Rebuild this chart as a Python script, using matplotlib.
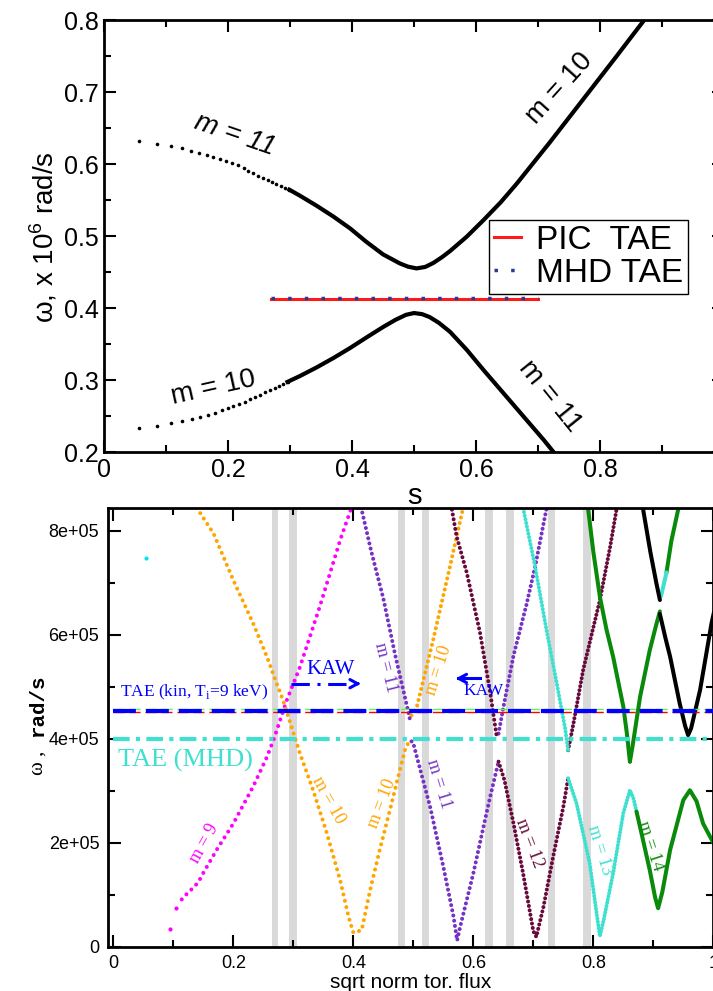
import numpy as np
import matplotlib
matplotlib.use('Agg')
import matplotlib.pyplot as plt

plt.rcParams['font.family'] = ['Liberation Sans', 'DejaVu Sans']
plt.rcParams['mathtext.fontset'] = 'custom'
plt.rcParams['mathtext.rm'] = 'Liberation Serif'
plt.rcParams['mathtext.sf'] = 'Liberation Sans'

# ---------------- top panel: continuum vs s ----------------
upper_dots_s = [0.057, 0.085, 0.1075, 0.125, 0.140, 0.153, 0.1656, 0.176, 0.187, 0.197,
                0.207, 0.216, 0.225, 0.233, 0.241, 0.249, 0.257, 0.264, 0.271, 0.278,
                0.285, 0.292, 0.299]
upper_dots_w = [0.632, 0.628, 0.6254, 0.622, 0.6185, 0.6157, 0.6125, 0.610, 0.607, 0.6037,
                0.601, 0.598, 0.594, 0.5907, 0.5875, 0.584, 0.581, 0.578, 0.5755, 0.5727,
                0.5699, 0.567, 0.5643]
upper_line_s = [0.299, 0.316, 0.343, 0.37, 0.397, 0.423, 0.45, 0.477, 0.49, 0.504, 0.518,
                0.531, 0.545, 0.558, 0.585, 0.612, 0.64, 0.666, 0.692, 0.719, 0.746,
                0.773, 0.80, 0.827, 0.85, 0.875]
upper_line_w = [0.5643, 0.556, 0.542, 0.527, 0.5105, 0.492, 0.4745, 0.462, 0.4575, 0.455, 0.457,
                0.4625, 0.4705, 0.479, 0.499, 0.522, 0.547, 0.573, 0.601, 0.630, 0.660,
                0.690, 0.720, 0.750, 0.776, 0.804]

lower_dots_s = [0.057, 0.085, 0.1075, 0.125, 0.1415, 0.155, 0.167, 0.179, 0.190, 0.1995,
                0.2086, 0.218, 0.227, 0.2355, 0.2435, 0.2516, 0.26, 0.268, 0.275, 0.282,
                0.289, 0.296]
lower_dots_w = [0.2329, 0.2365, 0.2398, 0.243, 0.2458, 0.249, 0.252, 0.2546, 0.2579, 0.2607,
                0.2635, 0.2667, 0.270, 0.2732, 0.2764, 0.2796, 0.283, 0.286, 0.2888, 0.2917,
                0.2945, 0.2974]
lower_line_s = [0.296, 0.316, 0.343, 0.37, 0.397, 0.425, 0.45, 0.47, 0.487, 0.50, 0.513,
                0.525, 0.54, 0.558, 0.585, 0.612, 0.639, 0.666, 0.69, 0.709, 0.725, 0.735]
lower_line_w = [0.2974, 0.3055, 0.3175, 0.3305, 0.3445, 0.360, 0.3735, 0.3835, 0.3905, 0.393, 0.3915,
                0.3875, 0.3795, 0.367, 0.342, 0.314, 0.287, 0.260, 0.236, 0.217, 0.2, 0.19]

tae_s = [0.27, 0.70]
pic_tae_w = [0.413, 0.413]
mhd_tae_w = [0.4135, 0.4135]

# ---------------- bottom panel: continuum vs sqrt norm tor. flux (units 1e5 rad/s) ----------------
m9_dots_s = [0.0945, 0.104]
m9_dots_w = [0.34, 0.74]
m9_s = [0.114, 0.122, 0.13, 0.135, 0.143, 0.15, 0.172, 0.2, 0.233, 0.256, 0.267, 0.289,
        0.311, 0.344, 0.378, 0.40]
m9_w = [0.91, 1.01, 1.1, 1.15, 1.27, 1.42, 1.86, 2.37, 3.08, 3.65, 3.98, 4.74,
        5.38, 6.54, 7.82, 8.55]

orange_a_s = [0.133, 0.167, 0.2, 0.233, 0.256, 0.272, 0.283, 0.30, 0.311, 0.333, 0.356, 0.378,
              0.392, 0.40, 0.406, 0.414, 0.428, 0.444, 0.461, 0.472, 0.486, 0.494]
orange_a_w = [8.55, 7.95, 7.05, 6.22, 5.58, 5.07, 4.74, 4.12, 3.72, 3.01, 2.18, 1.28,
              0.58, 0.27, 0.29, 0.32, 1.09, 1.86, 2.63, 3.14, 3.78, 3.98]
orange_b_s = [0.497, 0.506, 0.533, 0.561, 0.572, 0.583, 0.587]
orange_b_w = [4.45, 4.62, 5.9, 7.31, 7.88, 8.44, 8.6]

purple_a_s = [0.411, 0.43, 0.45, 0.47, 0.485, 0.491, 0.494]
purple_a_w = [8.55, 7.6, 6.7, 5.6, 4.85, 4.55, 4.39]
purple_b_s = [0.497, 0.50, 0.528, 0.55, 0.567, 0.573, 0.578, 0.60, 0.617, 0.628, 0.642]
purple_b_w = [3.95, 3.91, 2.69, 1.54, 0.58, 0.12, 0.38, 1.41, 2.31, 2.88, 3.56]
purple_c_s = [0.642, 0.65, 0.667, 0.689, 0.703, 0.722, 0.725]
purple_c_w = [4.1, 4.6, 5.6, 6.6, 7.31, 8.43, 8.6]

maroon_a_s = [0.563, 0.572, 0.589, 0.611, 0.628, 0.639]
maroon_a_w = [8.5, 7.9, 7.2, 6.05, 4.9, 4.04]
maroon_b_s = [0.642, 0.652, 0.667, 0.683, 0.70, 0.705, 0.717, 0.733, 0.75, 0.758]
maroon_b_w = [3.56, 3.2, 2.37, 1.41, 0.3, 0.19, 0.77, 1.73, 2.69, 3.24]
maroon_c_s = [0.758, 0.761, 0.767, 0.783, 0.811, 0.828, 0.84]
maroon_c_w = [3.78, 3.95, 4.3, 5.32, 6.67, 7.69, 8.5]

turq_a_s = [0.682, 0.703, 0.722, 0.739, 0.753, 0.758]
turq_a_w = [8.5, 7.31, 6.09, 5.07, 4.2, 3.78]
turq_b_s = [0.758, 0.772, 0.794, 0.806, 0.811, 0.817, 0.833, 0.85, 0.861, 0.867, 0.872]
turq_b_w = [3.24, 2.76, 1.6, 0.6, 0.2, 0.5, 1.41, 2.57, 3.01, 2.85, 2.6]
cyan_bit_s = [0.913, 0.918, 0.922]
cyan_bit_w = [6.75, 7.0, 7.2]

green_a_s = [0.79, 0.80, 0.811, 0.822, 0.833, 0.85, 0.856, 0.861]
green_a_w = [8.55, 7.6, 6.73, 6.1, 5.58, 4.62, 4.1, 3.56]
green_b_s = [0.861, 0.866, 0.878, 0.894, 0.905, 0.911]
green_b_w = [3.56, 3.9, 4.81, 5.7, 6.2, 6.45]
green_c_s = [0.922, 0.93, 0.942, 0.945]
green_c_w = [7.2, 7.8, 8.44, 8.6]
green_e_s = [0.872, 0.878, 0.894, 0.903, 0.908, 0.915, 0.928, 0.95, 0.961, 0.972, 0.983, 1.0, 1.01]
green_e_w = [2.6, 2.3, 1.48, 0.95, 0.74, 1.05, 1.86, 2.82, 3.01, 2.8, 2.37, 2.0, 1.85]

black_a_s = [0.881, 0.895, 0.905, 0.911]
black_a_w = [8.55, 7.6, 7.0, 6.67]
black_b_s = [0.911, 0.92, 0.928, 0.944, 0.953, 0.958, 0.963, 0.978, 0.997, 1.01]
black_b_w = [6.4, 5.95, 5.58, 4.68, 4.25, 4.07, 4.2, 4.94, 6.22, 6.9]

lone_dot_s = [0.054]
lone_dot_w = [7.47]

gap_bands = [(0.264, 0.275), (0.293, 0.306), (0.474, 0.486), (0.514, 0.526),
             (0.620, 0.632), (0.654, 0.667), (0.725, 0.736), (0.783, 0.796)]

tae_kin_w = 4.54
tae_red_w = 4.51
tae_green_w = 4.57
tae_mhd_w = 3.99

MAGENTA = '#ff00ff'
ORANGE = '#ffa500'
PURPLE = '#7433c4'
MAROON = '#670a3a'
TURQ = '#40e0d0'
GREEN = '#0a8a0a'
SCALE = 1e5

fig = plt.figure(figsize=(7.13, 9.91), dpi=100)
ax1 = fig.add_axes([104 / 713, 1 - 452 / 991, 620 / 713, 432 / 991])
ax2 = fig.add_axes([107.7 / 713, 1 - 946.7 / 991, 605.6 / 713, 438.7 / 991])

# ---- top panel ----
ax1.plot(upper_dots_s, upper_dots_w, 'o', color='black', ms=2.6, mew=0)
ax1.plot(upper_line_s, upper_line_w, '-', color='black', lw=3.0, solid_joinstyle='round')
ax1.plot(lower_dots_s, lower_dots_w, 'o', color='black', ms=2.6, mew=0)
ax1.plot(lower_line_s, lower_line_w, '-', color='black', lw=3.0, solid_joinstyle='round')
h_pic, = ax1.plot(tae_s, pic_tae_w, '-', color='#ff1a1a', lw=2.2, label='PIC  TAE')
h_mhd, = ax1.plot(tae_s, mhd_tae_w, color='#2b3990', lw=2.5, linestyle=(0, (1, 3.8)),
                  dash_capstyle='butt', label='MHD TAE')

ax1.text(0.211, 0.640, 'm = 11', fontsize=20, style='italic', rotation=-19, ha='center', va='center')
ax1.text(0.176, 0.2885, 'm = 10', fontsize=20, rotation=12.5, ha='center', va='center')
ax1.text(0.735, 0.705, 'm = 10', fontsize=20, rotation=48, ha='center', va='center')
ax1.text(0.719, 0.277, 'm = 11', fontsize=20, rotation=-51, ha='center', va='center')

leg = ax1.legend(handles=[h_pic, h_mhd], loc='upper left', bbox_to_anchor=(0.6215, 0.537),
                 borderaxespad=0, fontsize=24, handlelength=0.8, handletextpad=0.45,
                 labelspacing=0.05, borderpad=0.15, fancybox=False, framealpha=1)
leg.get_frame().set_edgecolor('black')
leg.get_frame().set_linewidth(1.0)

ax1.set_xlim(0, 1)
ax1.set_ylim(0.2, 0.8)
ax1.set_xticks([0, 0.2, 0.4, 0.6, 0.8, 1.0])
ax1.set_xticklabels(['0', '0.2', '0.4', '0.6', '0.8', ''])
ax1.set_xticks([0.1, 0.3, 0.5, 0.7, 0.9], minor=True)
ax1.set_yticks([0.2, 0.3, 0.4, 0.5, 0.6, 0.7, 0.8])
ax1.set_yticklabels(['0.2', '0.3', '0.4', '0.5', '0.6', '0.7', '0.8'])
ax1.set_yticks([0.25, 0.35, 0.45, 0.55, 0.65, 0.75], minor=True)
ax1.tick_params(which='both', direction='in', top=True, right=True, width=1.5, labelsize=18, pad=4)
ax1.tick_params(which='major', length=8.5)
ax1.tick_params(which='minor', length=5)
for sp in ax1.spines.values():
    sp.set_linewidth(2)
ax1.set_xlabel('s', fontsize=21, labelpad=0)
fig.text(44 / 713, 1 - 237 / 991, 'ω, x 10$^{\\mathsf{6}}$ rad/s', fontsize=20,
         rotation=90, ha='center', va='center')

# ---- bottom panel ----
for a, b in gap_bands:
    ax2.axvspan(a, b, color='#d9d9d9', lw=0, zorder=0)


def dotted(s, w, color, gap, lw=2.9):
    w = np.asarray(w) * SCALE
    if gap is None:
        ax2.plot(s, w, color=color, lw=lw, solid_capstyle='round', zorder=2)
    else:
        ax2.plot(s, w, color=color, lw=lw, linestyle=(0, (0.01, gap)),
                 dash_capstyle='round', zorder=2)


segments = [
    (m9_s, m9_w, MAGENTA, 1.7),
    (orange_a_s, orange_a_w, ORANGE, 1.6),
    (orange_b_s, orange_b_w, ORANGE, 1.4),
    (purple_a_s, purple_a_w, PURPLE, 1.3),
    (purple_b_s, purple_b_w, PURPLE, 1.3),
    (purple_c_s, purple_c_w, PURPLE, 1.2),
    (maroon_a_s, maroon_a_w, MAROON, 1.2),
    (maroon_b_s, maroon_b_w, MAROON, 1.1),
    (maroon_c_s, maroon_c_w, MAROON, 1.0),
    (turq_a_s, turq_a_w, TURQ, 0.9),
    (turq_b_s, turq_b_w, TURQ, 0.8),
    (green_a_s, green_a_w, GREEN, None),
    (green_b_s, green_b_w, GREEN, None),
    (green_c_s, green_c_w, GREEN, None),
    (green_e_s, green_e_w, GREEN, None),
    (cyan_bit_s, cyan_bit_w, TURQ, None),
    (black_a_s, black_a_w, 'black', None),
    (black_b_s, black_b_w, 'black', None),
]
for s, w, c, g in segments:
    dotted(s, w, c, g)

ax2.plot(m9_dots_s, np.asarray(m9_dots_w) * SCALE, 'o', color=MAGENTA, ms=3, mew=0, zorder=2)
ax2.plot(lone_dot_s, np.asarray(lone_dot_w) * SCALE, 'o', color='#00e5ee', ms=3, mew=0, zorder=2)

# TAE frequencies
ax2.plot([0, 1], [tae_green_w * SCALE] * 2, color='#5cf25c', lw=1.0, linestyle=(0, (8, 3.5)), zorder=3)
ax2.plot([0, 1], [tae_red_w * SCALE] * 2, color='#ff0000', lw=1.0, linestyle=(0, (8, 3.5)), zorder=3)
ax2.plot([0, 1], [tae_kin_w * SCALE] * 2, color='#0000ff', lw=3.0, linestyle=(0, (5.5, 2.4)), zorder=3)
ax2.plot([0, 1], [tae_mhd_w * SCALE] * 2, color=TURQ, lw=3.0, linestyle=(0, (4, 1.5, 1, 1.5)), zorder=3)

serif = 'Liberation Serif'
ax2.text(0.011, 4.81 * SCALE, 'TAE (kin, T$_{\\mathrm{i}}$=9 keV)', color='#0000ff', family=serif,
         fontsize=12.5, ha='left', va='baseline')
ax2.text(0.008, 3.46 * SCALE, 'TAE (MHD)', color=TURQ, family=serif, fontsize=19,
         ha='left', va='baseline')

# KAW arrows
ax2.text(0.322, 5.24 * SCALE, 'KAW', color='#0000ff', family=serif, fontsize=15,
         ha='left', va='baseline')
ax2.plot([0.296, 0.405], [5.06 * SCALE] * 2, color='#0000ff', lw=2.2,
         linestyle=(0, (6, 2.5, 1, 2.5)), zorder=4)
ax2.annotate('', xy=(0.417, 5.06 * SCALE), xytext=(0.400, 5.06 * SCALE),
             arrowprops=dict(arrowstyle='->,head_length=0.55,head_width=0.3', color='#0000ff', lw=2.2),
             zorder=4)
ax2.text(0.583, 4.84 * SCALE, 'KAW', color='#0000ff', family=serif, fontsize=12.5,
         ha='left', va='baseline')
ax2.plot([0.575, 0.611], [5.16 * SCALE] * 2, color='#0000ff', lw=2.2, zorder=4)
ax2.annotate('', xy=(0.566, 5.16 * SCALE), xytext=(0.585, 5.16 * SCALE),
             arrowprops=dict(arrowstyle='->,head_length=0.55,head_width=0.3', color='#0000ff', lw=2.2),
             zorder=4)

# mode labels
mode_labels = [
    (0.151, 1.99, 'm = 9', MAGENTA, 61),
    (0.358, 2.82, 'm = 10', ORANGE, -61),
    (0.447, 2.76, 'm = 10', ORANGE, 69),
    (0.542, 3.14, 'm = 11', PURPLE, -73),
    (0.693, 1.98, 'm = 12', MAROON, -69),
    (0.810, 1.86, 'm = 13', TURQ, -73),
    (0.894, 1.94, 'm = 14', GREEN, -72),
    (0.454, 5.37, 'm = 11', PURPLE, -76),
    (0.543, 5.32, 'm = 10', ORANGE, 72),
]
for x, y, t, c, r in mode_labels:
    ax2.text(x, y * SCALE, t, color=c, family=serif, fontsize=13, rotation=r,
             ha='center', va='center', zorder=5)

ax2.set_xlim(-0.0094, 1.0)
ax2.set_ylim(0, 8.44e5)
ax2.set_xticks([0, 0.2, 0.4, 0.6, 0.8, 1.0])
ax2.set_xticklabels(['0', '0.2', '0.4', '0.6', '0.8', '1'])
ax2.set_xticks([0.1, 0.3, 0.5, 0.7, 0.9], minor=True)
ax2.set_yticks([0, 2e5, 4e5, 6e5, 8e5])
ax2.set_yticklabels(['0', '2e+05', '4e+05', '6e+05', '8e+05'])
ax2.set_yticks([1e5, 3e5, 5e5, 7e5], minor=True)
ax2.tick_params(which='both', direction='in', top=True, right=True, width=1.5, labelsize=13, pad=6)
ax2.tick_params(which='major', length=9)
ax2.tick_params(which='minor', length=5)
for sp in ax2.spines.values():
    sp.set_linewidth(2)
ax2.set_xlabel('sqrt norm tor. flux', fontsize=15, labelpad=1)
fig.text(38 / 713, 1 - 706 / 991, 'rad/s', family='Liberation Mono', weight='bold', fontsize=15,
         rotation=90, ha='center', va='center')
fig.text(38 / 713, 1 - 763 / 991, 'ω ,', family=serif, fontsize=15,
         rotation=90, ha='center', va='center')

fig.savefig('out.png', dpi=100)
